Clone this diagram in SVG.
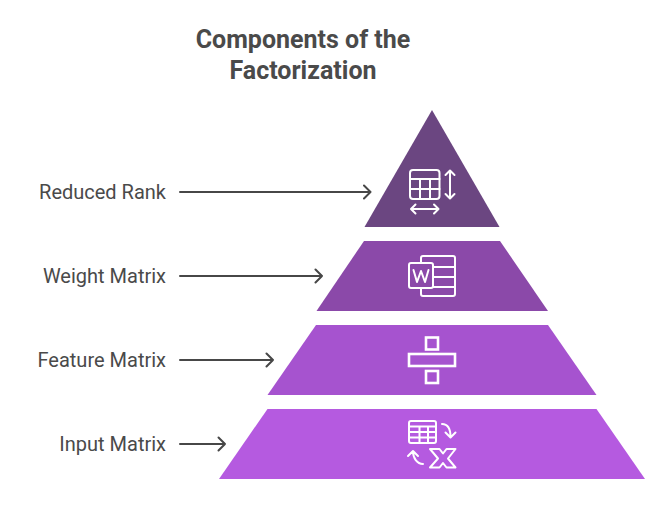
<svg xmlns="http://www.w3.org/2000/svg" width="671" height="528" viewBox="0 0 671 528">
<style>
text{font-family:Roboto,"Liberation Sans",sans-serif;fill:#4a4a4a}
.t{font-size:25px;font-weight:700;text-anchor:middle}
.l{font-size:20px;text-anchor:end}
.c{fill:none;stroke:#474747;stroke-width:2;stroke-linecap:round;stroke-linejoin:round}
.i{fill:none;stroke:#fff;stroke-width:2;stroke-linecap:round;stroke-linejoin:round}
.s{fill:none;stroke:#fff;stroke-width:2.6}
</style>
<rect width="671" height="528" fill="#fff"/>
<g id="title"><text class="t" x="303" y="48">Components of the</text><text class="t" x="303" y="79">Factorization</text></g>
<g id="connectors">
<path class="c" d="M180 192H370M364 185.500L370.500 192L364 198.500"/>
<path class="c" d="M180 276H322M315.500 269.500L322 276L315.500 282.500"/>
<path class="c" d="M180 360H273M266.500 353.500L273 360L266.500 366.500"/>
<path class="c" d="M180 444H225M218.500 437.500L225 444L218.500 450.500"/>
</g>
<g id="node-reduced-rank">
<polygon points="432,110 499.500,227 364.500,227" fill="#6b4681"/>
<text class="l" x="166" y="199">Reduced Rank</text>
<rect class="i" x="410" y="170" width="29.500" height="29" rx="3"/>
<path class="i" d="M410 179H439.500M410 189H439.500M420 179V199M430 179V199"/>
<path class="i" d="M450 171V198M445.500 175L450 170.500L454.500 175M445.500 194L450 198.500L454.500 194"/>
<path class="i" d="M411.500 209H438M415.500 204.500L411 209L415.500 213.500M434 204.500L438.500 209L434 213.500"/>
</g>
<g id="node-weight-matrix">
<polygon points="364,241 500,241 548,311 316.500,311" fill="#8b49a9"/>
<text class="l" x="166" y="283">Weight Matrix</text>
<path class="i" d="M421 263V258a2 2 0 0 1 2-2H453a2 2 0 0 1 2 2V294a2 2 0 0 1-2 2H423a2 2 0 0 1-2-2V288"/>
<path class="i" d="M433 267H455M433 277H455M433 287H455"/>
<rect class="i" x="409" y="263" width="24" height="25" rx="2"/>
<path class="i" d="M413.500 270L417 282L421 271L425 282L428.500 270"/>
</g>
<g id="node-feature-matrix">
<polygon points="316,325 548,325 596.500,395 267.500,395" fill="#a653cf"/>
<text class="l" x="166" y="367">Feature Matrix</text>
<rect class="s" x="426" y="337.500" width="12" height="12"/>
<rect class="s" x="409" y="354" width="46" height="12"/>
<rect class="s" x="426" y="371" width="12" height="12"/>
</g>
<g id="node-input-matrix">
<polygon points="267.500,409 596.500,409 645,479 219,479" fill="#b55ae0"/>
<text class="l" x="166" y="451">Input Matrix</text>
<rect class="i" x="409" y="421" width="27" height="22" rx="2"/>
<path class="i" d="M409 426.500H436M409 432H436M409 437.500H436M419.500 426.500V443M428 426.500V443"/>
<path class="i" d="M442 424C448 424 450.500 429 450.500 437M445.500 432.500L450.500 437.500L455.500 432.500"/>
<path class="i" d="M423 464C417 464 413 458 413 451M408 456L413 451L418 456"/>
<path class="i" d="M430 449H439.500L443 453.500L446.500 449H455.500L448 458.500L455.500 467.500H446.500L443 463L439.500 467.500H430L438 458.500Z"/>
</g>
</svg>
